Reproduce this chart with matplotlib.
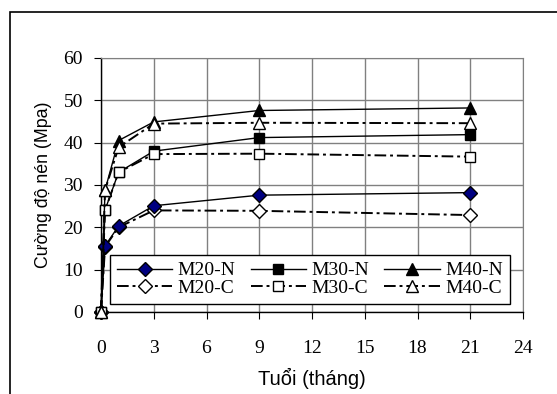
import matplotlib
matplotlib.use("Agg")
import matplotlib.pyplot as plt
from matplotlib.patches import Rectangle

# Age in months: 0, 7 days, 28 days, 3, 9, 21 months
age = [0, 0.23, 1, 3, 9, 21]

m20_n = [0, 15.6, 20.3, 25.1, 27.6, 28.2]
m20_c = [0, 15.4, 20.0, 24.0, 23.9, 22.9]
m30_n = [0, 24.1, 33.0, 38.0, 41.2, 41.9]
m30_c = [0, 24.0, 33.0, 37.3, 37.4, 36.7]
m40_n = [0, 28.8, 40.5, 44.9, 47.6, 48.2]
m40_c = [0, 28.8, 38.9, 44.5, 44.7, 44.6]

xticks = [0, 3, 6, 9, 12, 15, 18, 21, 24]
yticks = [0, 10, 20, 30, 40, 50, 60]

serif = ["Liberation Serif", "DejaVu Serif"]
sans = ["Liberation Sans", "DejaVu Sans"]

fig = plt.figure(figsize=(5.57, 3.94), dpi=100)
ax = fig.add_axes([101 / 557, 82 / 394, 422 / 557, 254 / 394])

# outer chart frame (only top and left edges fall inside the image)
fig.patches.append(Rectangle((10 / 557, -0.1), 1.2, (394 - 12) / 394 + 0.1,
                             transform=fig.transFigure, fill=False,
                             edgecolor="black", linewidth=1.2))

solid = dict(color="black", linewidth=1.0, linestyle="-")
dashdot = dict(color="black", linewidth=1.4, linestyle=(0, (6, 2, 1.5, 2)))

l20c, = ax.plot(age, m20_c, marker="D", markersize=6.8, markerfacecolor="white",
                markeredgecolor="black", markeredgewidth=1.0, label="M20-C",
                zorder=3, **dashdot)
l20n, = ax.plot(age, m20_n, marker="D", markersize=7, markerfacecolor="#000080",
                markeredgecolor="black", markeredgewidth=1.0, label="M20-N",
                zorder=4, **solid)
l30n, = ax.plot(age, m30_n, marker="s", markersize=7, markerfacecolor="black",
                markeredgecolor="black", label="M30-N", zorder=5, **solid)
l30c, = ax.plot(age, m30_c, marker="s", markersize=7, markerfacecolor="white",
                markeredgecolor="black", markeredgewidth=1.0, label="M30-C",
                zorder=6, **dashdot)
l40n, = ax.plot(age, m40_n, marker="^", markersize=8, markerfacecolor="black",
                markeredgecolor="black", label="M40-N", zorder=7, **solid)
l40c, = ax.plot(age, m40_c, marker="^", markersize=8, markerfacecolor="white",
                markeredgecolor="black", markeredgewidth=1.0, label="M40-C",
                zorder=8, **dashdot)

for ln in ax.lines:
    ln.set_clip_on(False)

ax.set_xlim(0, 24)
ax.set_ylim(0, 60)
ax.set_xticks(xticks)
ax.set_yticks(yticks)
ax.grid(True, color="#808080", linewidth=1.0)
ax.set_axisbelow(True)

for side in ["top", "right"]:
    ax.spines[side].set_color("#808080")
for side in ["left", "bottom"]:
    ax.spines[side].set_color("black")
    ax.spines[side].set_linewidth(1.0)

ax.tick_params(axis="x", direction="out", length=5, pad=15, labelsize=14)
ax.tick_params(axis="y", direction="out", length=5, pad=8, labelsize=14)
for lab in ax.get_xticklabels() + ax.get_yticklabels():
    lab.set_family(serif)

ax.set_xlabel("Tuổi (tháng)", family=sans, fontsize=14.5, labelpad=8)
ax.set_ylabel("Cường độ nén (Mpa)", family=sans, fontsize=12.8, labelpad=8)

handles = [l20n, l20c, l30n, l30c, l40n, l40c]
leg = ax.legend(handles=handles, labels=[h.get_label() for h in handles],
                ncol=3, loc="upper left", bbox_to_anchor=(9 / 422, 57 / 254),
                prop={"family": serif, "size": 14},
                handlelength=2.85, handletextpad=0.26, columnspacing=0.8,
                labelspacing=0.0, borderpad=0.35, borderaxespad=0,
                fancybox=False, framealpha=1, edgecolor="black")
leg.get_frame().set_linewidth(1.0)
leg.set_zorder(10)

fig.savefig("out.png", dpi=100)
